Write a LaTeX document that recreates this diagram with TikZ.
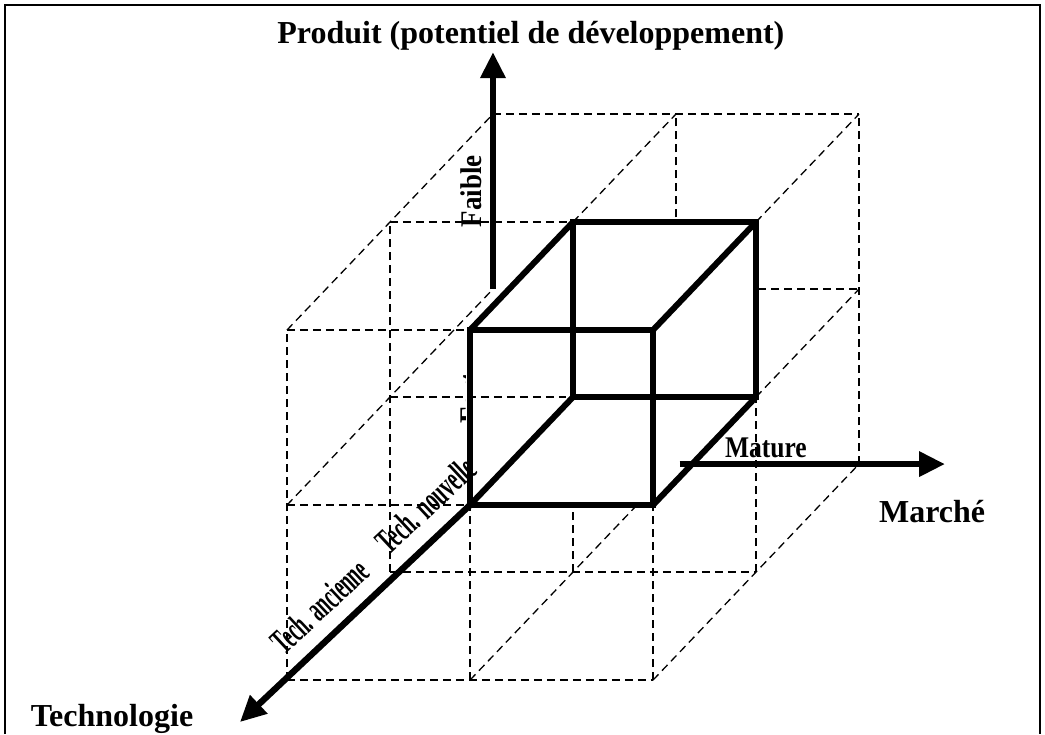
\documentclass[tikz,border=0pt]{standalone}
\usepackage{fontspec}
\setmainfont{Liberation Serif}
\usetikzlibrary{arrows.meta}

\tikzset{
  grille/.style={dash pattern=on 4pt off 2.5pt, line width=0.65pt},
  axe/.style={line width=3.2pt, -{Triangle[width=12pt,length=13pt]}},
  arete/.style={line width=3pt, line join=miter},
  titre/.style={font=\fontsize{16}{19}\selectfont\bfseries, inner sep=0pt, anchor=base},
  etiquette/.style={font=\fontsize{15}{18}\selectfont\bfseries, inner sep=0pt},
  techno/.style={font=\fontsize{18}{21}\selectfont\bfseries, inner sep=0pt, anchor=base, rotate=43},
}

\begin{document}
\begin{tikzpicture}[x={(-51.5pt,-54pt)}, y={(91.5pt,0pt)}, z={(0pt,87.5pt)}]
    \useasboundingbox (0,-2.568,-1.309) rectangle (0,3.142,2.886);

    % Cadre
    \draw[line width=0.75pt] (0,-2.541,-1.309) -- (0,-2.541,2.857) -- (0,3.115,2.857) -- (0,3.115,-1.309);

    % Grille 2x2x2 en pointillés (aretes horizontales)
    \draw[grille] (0,-1,1) -- (0,0,1);
    \draw[grille] (-1,-1,1) -- (-1,1,1);
    \draw[grille] (-2,-1,1) -- (-2,1,1);
    \draw[grille] (0,-1,0) -- (0,0,0);
    \draw[grille] (-1,-1,0) -- (-1,-0.04,0);
    \draw[grille] (-2,0.45,0) -- (-2,1,0);
    \draw[grille] (0,-1,-1) -- (0,1,-1);
    \draw[grille] (-1,-1,-1) -- (-1,1,-1);

    % Grille (aretes verticales)
    \draw[grille] (0,-1,-1) -- (0,-1,1);
    \draw[grille] (0,0,-1) -- (0,0,0);
    \draw[grille] (0,1,-1) -- (0,1,0);
    \draw[grille] (-1,-1,-1) -- (-1,-1,1);
    \draw[grille] (-1,0,-1) -- (-1,0,-0.62);
    \draw[grille] (-1,1,-1) -- (-1,1,0);
    \draw[grille] (-2,0,0.41) -- (-2,0,1);
    \draw[grille] (-2,1,-1) -- (-2,1,1);

    % Grille (aretes en profondeur)
    \draw[grille] (0,0,-1) -- (-1.62,0,-1);
    \draw[grille] (0,1,-1) -- (-2,1,-1);
    \draw[grille] (0,-1,0) -- (-2,-1,0);
    \draw[grille] (-1,1,0) -- (-2,1,0);
    \draw[grille] (0,-1,1) -- (-2,-1,1);
    \draw[grille] (-1,0,1) -- (-2,0,1);
    \draw[grille] (-1,1,1) -- (-2,1,1);

    % Etiquettes le long des axes
    \node[etiquette, rotate=90] (faible) at (0,0.005,1.794) {\scalebox{0.9}[1]{Faible}};
    \begin{scope}
        \clip (0,-0.3,0.3) rectangle (0,-0.022,0.9);
        \node[etiquette, rotate=90] (fort) at (0,0.005,0.611) {\scalebox{0.9}[1]{Fort}};
    \end{scope}
    \node[techno] (ancienne) at (0,-0.776,-0.629) {\scalebox{0.52}[1]{Tech. ancienne}};
    \node[techno] (nouvelle) at (0,-0.197,-0.051) {\scalebox{0.55}[1]{Tech. nouvelle}};
    \node[etiquette, anchor=base] (mature) at (0,1.617,0.274) {\scalebox{0.85}[1]{Mature}};

    % Cube en trait plein
    \draw[arete] (0,0,0) -- (0,1,0) -- (0,1,1) -- (0,0,1) -- cycle;
    \draw[arete] (-1,0,0) -- (-1,1,0) -- (-1,1,1) -- (-1,0,1) -- cycle;
    \draw[arete] (0,0,0) -- (-1,0,0)  (0,1,0) -- (-1,1,0)  (0,1,1) -- (-1,1,1)  (0,0,1) -- (-1,0,1);

    % Axes
    \coordinate (origineP) at (-2,-1,0);
    \coordinate (sommetP) at (-2,-1,1.354);
    \coordinate (origineM) at (-2,0.02,-1);
    \coordinate (sommetM) at (-2,1.47,-1);
    \coordinate (origineT) at (0,0,0);
    \coordinate (sommetT) at (0,-1.257,-1.24);
    \draw[axe] (origineP) -- (sommetP);
    \draw[axe] (origineM) -- (sommetM);
    \draw[axe] (origineT) -- (sommetT);

    % Noms des axes
    \node[titre] (produit) at (0,0.333,2.64) {Produit (potentiel de développement)};
    \node[titre] (marche) at (0,2.525,-0.097) {Marché};
    \node[titre] (technologie) at (0,-1.956,-1.263) {Technologie};
\end{tikzpicture}
\end{document}
